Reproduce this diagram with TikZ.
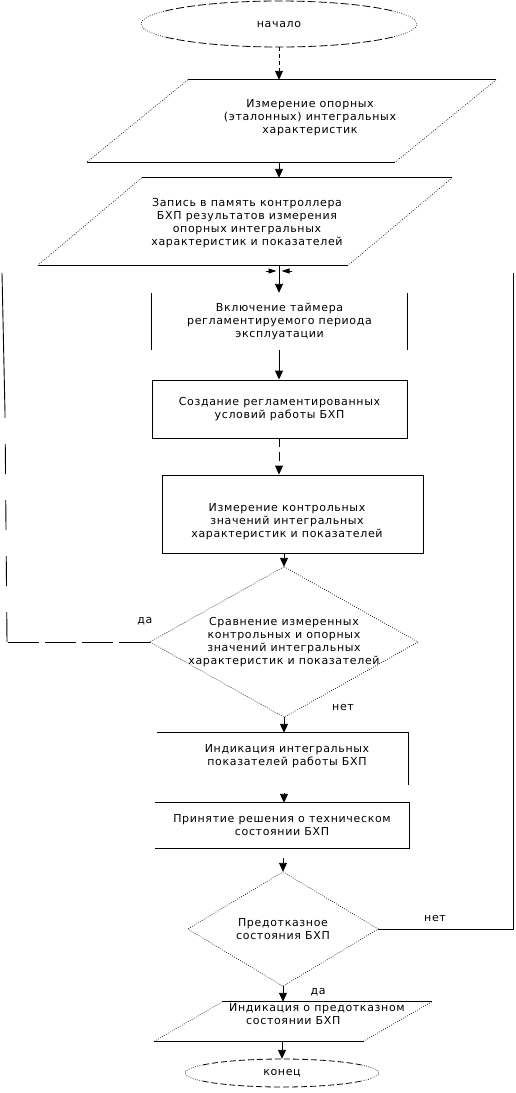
\documentclass[tikz,border=0pt]{standalone}
\usepackage{fontspec}
\setmainfont{DejaVu Sans}[LetterSpace=6]
\usetikzlibrary{arrows.meta,calc}
\begin{document}
\begin{tikzpicture}[x=1pt,y=-1pt,
  txt/.style={font=\fontsize{11}{13}\selectfont, align=center, inner sep=0pt},
  frame/.style={inner sep=0pt, draw=none, font=\fontsize{11}{13}\selectfont, align=center},
  solidline/.style={line width=0.9pt},
  dotline/.style={line width=0.7pt, dash pattern=on 0.7pt off 1.6pt},
  ovaldash/.style={line width=0.8pt, dash pattern=on 8pt off 3pt},
  arr/.style={line width=0.9pt, -{Triangle[width=8pt,length=9pt]}},
  smallarr/.style={line width=0.9pt, -{Triangle[width=5pt,length=8pt]}},
  lbl/.style={font=\fontsize{11}{13}\selectfont, inner sep=0pt}
]
\useasboundingbox (0,0) rectangle (515,1093);

% start oval
\node[frame, minimum width=276pt, minimum height=46pt] (s) at (279,24) {начало};
\draw[ovaldash] ([shift={(35:138pt and 23pt)}]s.center) arc[start angle=35,end angle=145,x radius=138pt,y radius=23pt];
\draw[ovaldash] ([shift={(215:138pt and 23pt)}]s.center) arc[start angle=215,end angle=325,x radius=138pt,y radius=23pt];
\draw[dotline] ([shift={(145:138pt and 23pt)}]s.center) arc[start angle=145,end angle=215,x radius=138pt,y radius=23pt];
\draw[dotline] ([shift={(-35:138pt and 23pt)}]s.center) arc[start angle=-35,end angle=35,x radius=138pt,y radius=23pt];

% parallelogram 1
\node[frame, minimum width=308pt, minimum height=82pt] (p1) at (291.5,121) {};
\draw[solidline] ([xshift=50.5pt]p1.north west) -- ([xshift=50.5pt]p1.north east);
\draw[solidline] ([xshift=-50.5pt]p1.south west) -- ([xshift=-50.5pt]p1.south east);
\draw[dotline] ([xshift=50.5pt]p1.north west) -- ([xshift=-50.5pt]p1.south west);
\draw[dotline] ([xshift=50.5pt]p1.north east) -- ([xshift=-50.5pt]p1.south east);
\node[txt] (t1) at (310,117.5) {Измерение опорных\\(эталонных) интегральных\\характеристик};

% parallelogram 2
\node[frame, minimum width=310pt, minimum height=87pt] (p2) at (245,221.5) {};
\draw[solidline] ([xshift=52pt]p2.north west) -- ([xshift=52pt]p2.north east);
\draw[solidline] ([xshift=-52pt]p2.south west) -- ([xshift=-52pt]p2.south east);
\draw[dotline] ([xshift=52pt]p2.north west) -- ([xshift=-52pt]p2.south west);
\draw[dotline] ([xshift=52pt]p2.north east) -- ([xshift=-52pt]p2.south east);
\node[txt] (t2) at (247,223) {Запись в память контроллера\\БХП результатов измерения\\опорных интегральных\\характеристик и показателей};

% timer box (sides only)
\node[frame, minimum width=255pt, minimum height=57pt] (b1) at (279.5,321.5) {Включение таймера\\регламентируемого периода\\эксплуатации};
\draw[solidline] (b1.north west) -- (b1.south west);
\draw[solidline] (b1.north east) -- (b1.south east);

% box 2
\node[frame, draw, solidline, minimum width=255pt, minimum height=58pt] (b2) at (279.5,409) {Создание регламентированных\\условий работы БХП};

% box 3
\node[frame, draw, solidline, minimum width=261pt, minimum height=78pt] (b3) at (292.5,514) {};
\node[txt] (t3) at (287,521.5) {Измерение контрольных\\значений интегральных\\характеристик и показателей};

% diamond 1
\node[frame, minimum width=268pt, minimum height=150pt] (d1) at (284,642) {Сравнение измеренных\\контрольных и опорных\\значений интегральных\\характеристик и показателей};
\draw[dotline] (d1.north) -- (d1.east) -- (d1.south) -- (d1.west) -- cycle;

% box 4 (top and right side)
\node[frame, minimum width=251pt, minimum height=52pt] (b4) at (282.5,759) {};
\node[txt] (t4) at (287,756) {Индикация интегральных\\показателей работы БХП};
\draw[solidline] (b4.north west) -- (b4.north east) -- (b4.south east);

% box 5 (top, right, bottom)
\node[frame, minimum width=254pt, minimum height=45pt] (b5) at (282,825.5) {Принятие решения о техническом\\состоянии БХП};
\draw[solidline] (b5.north west) -- (b5.north east) -- (b5.south east) -- (b5.south west);

% diamond 2
\node[frame, minimum width=190pt, minimum height=114pt] (d2) at (283,929) {Предотказное\\состояния БХП};
\draw[dotline] (d2.north) -- (d2.east) -- (d2.south) -- (d2.west) -- cycle;

% parallelogram 3
\node[frame, minimum width=209pt, minimum height=39pt] (p3) at (293,1021.5) {};
\draw[solidline] ([xshift=34pt]p3.north west) -- ([xshift=34pt]p3.north east);
\draw[solidline] ([xshift=-34pt]p3.south west) -- ([xshift=-34pt]p3.south east);
\draw[dotline] ([xshift=34pt]p3.north west) -- ([xshift=-34pt]p3.south west);
\draw[dotline] ([xshift=34pt]p3.north east) -- ([xshift=-34pt]p3.south east);
\node[txt, anchor=west, align=left] (t5) at (229,1014.5) {Индикация о предотказном\\\hspace*{17pt}состоянии БХП};

% end oval
\node[frame, minimum width=194pt, minimum height=28pt] (e) at (282,1073) {конец};
\draw[ovaldash, dash pattern=on 6pt off 3pt] ([shift={(35:97pt and 14pt)}]e.center) arc[start angle=35,end angle=145,x radius=97pt,y radius=14pt];
\draw[ovaldash, dash pattern=on 6pt off 3pt] ([shift={(215:97pt and 14pt)}]e.center) arc[start angle=215,end angle=325,x radius=97pt,y radius=14pt];
\draw[dotline] ([shift={(145:97pt and 14pt)}]e.center) arc[start angle=145,end angle=215,x radius=97pt,y radius=14pt];
\draw[dotline] ([shift={(-35:97pt and 14pt)}]e.center) arc[start angle=-35,end angle=35,x radius=97pt,y radius=14pt];

% main connectors
\draw[arr, dash pattern=on 4pt off 3pt] (s.south) -- (s.south |- p1.north);
\draw[arr] (s.south |- p1.south) -- (s.south |- p2.north);
\draw[arr] (s.south |- p2.south) -- (s.south |- b1.north);
\draw[arr] (s.south |- b1.south) -- (s.south |- b2.north);
\draw[arr, dash pattern=on 9pt off 5pt] (s.south |- b2.south) -- (s.south |- b3.north);
\draw[arr] (d1.north |- b3.south) -- (d1.north);
\draw[arr] (d1.south) -- (d1.south |- b4.north);
\draw[arr, shorten <=8pt] (d1.south |- b4.south) -- (d1.south |- b5.north);
\draw[arr, shorten <=10pt] (d2.north |- b5.south) -- (d2.north);
\draw[arr] (d2.south) -- (d2.south |- p3.north);
\draw[arr] (e.north |- p3.south) -- (e.north);

% junction arrows above the timer
\coordinate (J) at (279,271);
\draw[smallarr, shorten >=2.5pt] (266,271) -- (J);
\draw[smallarr, shorten >=2.5pt] (292,271) -- (J);

% left return (да)
\coordinate (L1) at (7,642);
\coordinate (Lm) at (5,413);
\coordinate (L2) at (2,273);
\draw[solidline, dash pattern=on 31pt off 6pt] (d1.west) -- (L1);
\draw[solidline, dash pattern=on 30pt off 26pt] (L1) -- (Lm);
\draw[solidline] (Lm) -- (L2);
\node[lbl] (da1) at (145,621) {да};
\node[lbl] (net1) at (343,707) {нет};

% right return (нет)
\coordinate (R1) at (513,929);
\coordinate (R2) at (513,273);
\draw[solidline] (d2.east) -- (R1) -- (R2);
\node[lbl] (net2) at (435,918) {нет};
\node[lbl] (da2) at (318,992) {да};
\end{tikzpicture}
\end{document}
